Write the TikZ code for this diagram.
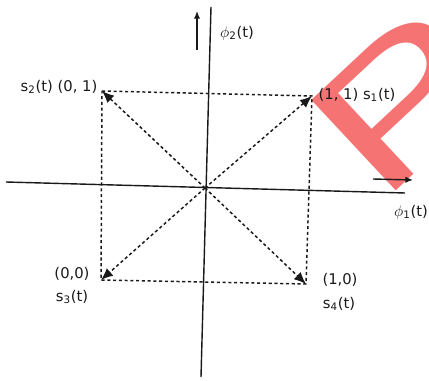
\documentclass[tikz,border=0pt]{standalone}
\usepackage{fontspec}
\setmainfont{DejaVu Sans}
\setsansfont{Liberation Sans}
\usetikzlibrary{arrows.meta,positioning}
\definecolor{ink}{RGB}{25,25,25}
\definecolor{wmred}{RGB}{245,115,115}
\tikzset{
  axline/.style={ink, line width=1pt},
  dirarr/.style={-{Latex[length=1.9mm,width=1.6mm]}, ink, line width=1pt},
  side/.style={ink, line width=1.05pt, dash pattern=on 2.2pt off 1.9pt},
  sigarr/.style={-{Latex[length=3mm,width=2.5mm]}, ink, line width=1.05pt,
                 dash pattern=on 2.2pt off 1.9pt},
  lab/.style={font=\fontsize{10.5}{12}\selectfont, text=ink, inner sep=0pt},
  wmark/.style={font=\fontsize{128}{128}\selectfont\sffamily, text=wmred,
                inner sep=0pt},
}

\begin{document}
\begin{tikzpicture}[x=0.025cm, y=-0.025cm]
    \useasboundingbox (0,0) rectangle (429,381);
    % watermark
    \begin{scope}
      \clip (0,0) rectangle (429,381);
      \node[wmark, rotate=43, xscale=1.45, anchor=base west] (mark) at (380,206) {Pi};
    \end{scope}
    % axes
    \coordinate (o) at (205,188);
    \coordinate (xl) at (6,182);  \coordinate (xr) at (405,193);
    \coordinate (yt) at (211,7);  \coordinate (yb) at (201,377);
    \draw[axline] (xl) -- (xr);
    \draw[axline] (yt) -- (yb);
    \coordinate (ua) at (197,50); \coordinate (ub) at (197,11);
    \coordinate (ra) at (373,179); \coordinate (rb) at (413,180);
    \draw[dirarr] (ua) -- (ub);
    \draw[dirarr] (ra) -- (rb);
    \node[lab] (phi2) at (237,33) {$\phi$\textsubscript{2}(t)};
    \node[lab] (phi1) at (411,212) {$\phi$\textsubscript{1}(t)};
    % signal points
    \coordinate (c1) at (312,96);
    \coordinate (c2) at (102,91);
    \coordinate (c3) at (101,280);
    \coordinate (c4) at (306,284);
    \draw[side] (c2) -- (c1) -- (c4) -- (c3) -- cycle;
    \foreach \c in {c1,c2,c3,c4}
      \draw[sigarr] (o) -- (\c);
    \node[lab] (l2) at (59,87) {s\textsubscript{2}(t) (0, 1)};
    \node[lab] (l1) at (357,95) {(1, 1) s\textsubscript{1}(t)};
    \node[lab] (p3) at (72,274) {(0,0)};
    \node[lab] (s3) at (72,297) {s\textsubscript{3}(t)};
    \node[lab] (p4) at (340,280) {(1,0)};
    \node[lab] (s4) at (339,304) {s\textsubscript{4}(t)};
  \end{tikzpicture}
\end{document}
